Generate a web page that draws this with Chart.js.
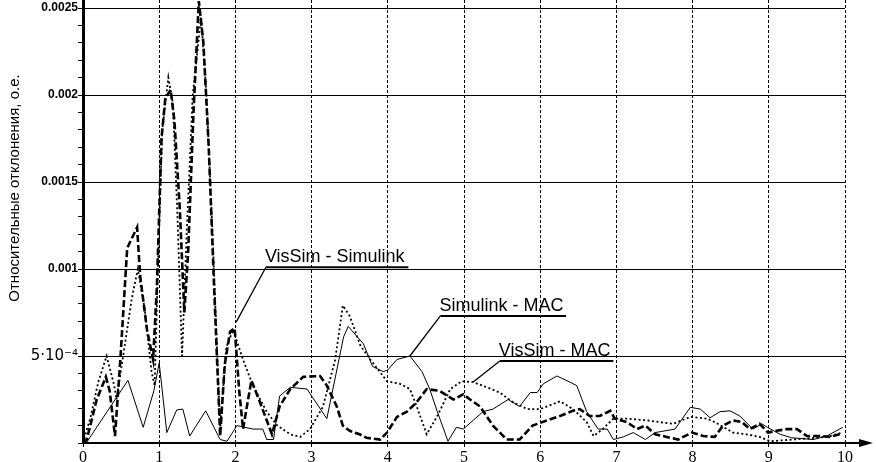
<!DOCTYPE html>
<html>
<head>
<meta charset="utf-8">
<script src="https://cdn.jsdelivr.net/npm/chart.js@4.4.1/dist/chart.umd.min.js"></script>
<style>
  html, body { margin: 0; padding: 0; background: #fff; }
</style>
</head>
<body>
<canvas id="chart" width="876" height="462"></canvas>
<script>
// Simulink - MAC (thin solid)
var xSimMac = [0, 0.05, 0.59, 0.79, 0.93, 1.0, 1.1, 1.23, 1.31, 1.4, 1.61, 1.8, 1.89, 2.02, 2.23, 2.36, 2.41, 2.5,
    2.58, 2.72, 2.94, 3.2, 3.42, 3.48, 3.68, 3.8, 3.94, 4.0, 4.12, 4.29, 4.45, 4.55, 4.65, 4.79, 4.9, 4.99,
    5.12, 5.25, 5.38, 5.58, 5.73, 5.87, 5.96, 6.04, 6.22, 6.39, 6.48, 6.61, 6.76, 6.88, 6.96, 7.09, 7.22,
    7.38, 7.51, 7.77, 7.97, 8.1, 8.23, 8.36, 8.49, 8.62, 8.79, 8.91, 8.98, 9.15, 9.3, 9.58, 9.76, 9.97];
var ySimMac = [0, 0.05e-4, 3.6e-4, 0.9e-4, 3.0e-4, 4.6e-4, 0.6e-4, 1.9e-4, 1.95e-4, 0.4e-4, 1.85e-4, 0.2e-4, 0.1e-4, 1.0e-4, 0.8e-4, 0.8e-4, 0.2e-4, 0.2e-4,
    2.7e-4, 3.2e-4, 3.1e-4, 1.4e-4, 6.1e-4, 6.7e-4, 5.7e-4, 4.4e-4, 4.1e-4, 4.2e-4, 4.8e-4, 5.0e-4, 4.1e-4, 3.1e-4, 1.8e-4, 0.1e-4, 0.9e-4, 0.8e-4,
    1.3e-4, 1.8e-4, 1.95e-4, 2.5e-4, 2.1e-4, 2.9e-4, 2.9e-4, 3.4e-4, 3.85e-4, 3.5e-4, 3.3e-4, 1.8e-4, 0.8e-4, 0.8e-4, 0.2e-4, 0.35e-4, 0.6e-4,
    0.2e-4, 0.6e-4, 0.8e-4, 2.05e-4, 1.95e-4, 1.45e-4, 1.8e-4, 1.85e-4, 1.55e-4, 0.8e-4, 1.1e-4, 0.9e-4, 0.5e-4, 0.3e-4, 0.2e-4, 0.4e-4, 0.9e-4];

// VisSim - Simulink (thick dashed)
var xVisSim = [0, 0.05, 0.18, 0.3, 0.35, 0.42, 0.49, 0.58, 0.71, 0.75, 0.84, 0.92, 0.97, 1.03, 1.08, 1.15, 1.2, 1.27,
    1.33, 1.38, 1.45, 1.52, 1.58, 1.65, 1.72, 1.8, 1.86, 1.93, 1.99, 2.05, 2.1, 2.21, 2.3, 2.48, 2.58, 2.72,
    2.89, 3.11, 3.2, 3.33, 3.41, 3.5, 3.63, 3.72, 3.9, 3.99, 4.12, 4.25, 4.38, 4.51, 4.68, 4.86, 4.99, 5.08,
    5.21, 5.38, 5.56, 5.73, 5.9, 6.09, 6.26, 6.43, 6.52, 6.65, 6.78, 6.92, 6.98, 7.14, 7.27, 7.38, 7.51, 7.66,
    7.81, 7.99, 8.14, 8.29, 8.4, 8.53, 8.65, 8.75, 8.88, 8.99, 9.1, 9.24, 9.37, 9.5, 9.67, 9.8, 9.93];
var yVisSim = [0, 0.2e-4, 2.5e-4, 3.8e-4, 3.0e-4, 0.4e-4, 4.8e-4, 11.2e-4, 12.4e-4, 9.6e-4, 6.5e-4, 4.8e-4, 9.0e-4, 17.5e-4, 19.8e-4, 20.3e-4, 18.5e-4, 13.5e-4,
    7.5e-4, 11.0e-4, 19.0e-4, 25.4e-4, 23.0e-4, 17.0e-4, 9.0e-4, 0.4e-4, 4.5e-4, 6.4e-4, 6.6e-4, 3.0e-4, 0.8e-4, 3.6e-4, 2.6e-4, 0.5e-4, 2.1e-4, 3.1e-4,
    3.8e-4, 3.85e-4, 3.3e-4, 2.1e-4, 1.0e-4, 0.7e-4, 0.5e-4, 0.3e-4, 0.2e-4, 0.6e-4, 1.5e-4, 1.8e-4, 2.35e-4, 3.1e-4, 3.0e-4, 2.5e-4, 2.8e-4, 2.5e-4,
    2.1e-4, 1.0e-4, 0.2e-4, 0.2e-4, 1.0e-4, 1.3e-4, 1.55e-4, 1.85e-4, 1.95e-4, 1.55e-4, 1.55e-4, 1.85e-4, 1.4e-4, 1.2e-4, 0.8e-4, 1.0e-4, 0.5e-4, 0.35e-4,
    0.2e-4, 0.6e-4, 0.4e-4, 0.35e-4, 1.0e-4, 1.3e-4, 1.2e-4, 0.8e-4, 1.1e-4, 0.6e-4, 0.7e-4, 0.8e-4, 0.8e-4, 0.4e-4, 0.4e-4, 0.35e-4, 0.5e-4];

// VisSim - MAC (dotted)
var xVisMac = [0, 0.1, 0.2, 0.31, 0.41, 0.44, 0.52, 0.64, 0.72, 0.81, 0.9, 0.94, 0.99, 1.04, 1.12, 1.18, 1.24, 1.3,
    1.36, 1.44, 1.55, 1.62, 1.7, 1.8, 1.88, 1.97, 2.1, 2.23, 2.41, 2.55, 2.72, 2.85, 2.98, 3.15, 3.31, 3.41,
    3.5, 3.64, 3.77, 3.99, 4.16, 4.29, 4.38, 4.51, 4.65, 4.82, 4.97, 5.12, 5.3, 5.47, 5.64, 5.83, 6.0, 6.09,
    6.26, 6.43, 6.61, 6.7, 6.82, 6.96, 7.14, 7.4, 7.74, 7.97, 8.19, 8.29, 8.53, 8.71, 8.88, 9.02, 9.32, 9.76, 9.97];
var yVisMac = [0, 1.5e-4, 3.5e-4, 5.0e-4, 3.3e-4, 2.5e-4, 4.8e-4, 8.3e-4, 10.0e-4, 7.7e-4, 4.1e-4, 3.3e-4, 11.0e-4, 18.0e-4, 21.0e-4, 19.5e-4, 13.0e-4, 5.0e-4,
    12.0e-4, 20.0e-4, 24.5e-4, 20.0e-4, 12.0e-4, 0.8e-4, 5.5e-4, 6.5e-4, 4.8e-4, 3.3e-4, 1.8e-4, 1.0e-4, 0.5e-4, 0.35e-4, 0.8e-4, 2.1e-4, 4.8e-4, 7.9e-4,
    7.3e-4, 5.6e-4, 4.8e-4, 3.55e-4, 3.4e-4, 3.1e-4, 2.1e-4, 0.5e-4, 1.55e-4, 3.1e-4, 3.55e-4, 3.5e-4, 3.2e-4, 2.9e-4, 2.35e-4, 1.95e-4, 1.95e-4, 2.1e-4,
    2.4e-4, 1.95e-4, 1.2e-4, 0.4e-4, 0.8e-4, 1.4e-4, 1.4e-4, 1.3e-4, 1.1e-4, 1.5e-4, 1.4e-4, 1.2e-4, 0.6e-4, 0.5e-4, 0.35e-4, 0.1e-4, 0.2e-4, 0.35e-4, 0.6e-4];

var yTickValues = [0.0005, 0.001, 0.0015, 0.002, 0.0025];
var yTickLabels = ['5·10⁻⁴', '0.001', '0.0015', '0.002', '0.0025'];
var yTitle = 'Относительные отклонения, о.е.';

// callout labels: underline from x0 to x1 at y, leader to (tx, ty)
var notes = [
    { text: 'VisSim - Simulink', x0: 2.40, x1: 4.27, y: 0.00101, tx: 2.01, ty: 0.000695 },
    { text: 'Simulink - MAC', x0: 4.69, x1: 6.34, y: 0.00073, tx: 4.29, ty: 0.0005 },
    { text: 'VisSim - MAC', x0: 5.47, x1: 6.96, y: 0.000471, tx: 5.12, ty: 0.00035 }
];

function pts(xs, ys) {
    return xs.map(function (x, i) { return { x: x, y: ys[i] }; });
}

function isMajor(v) {
    return Math.abs(v * 2000 - Math.round(v * 2000)) < 1e-6 && v > 0;
}

var extras = {
    id: 'extras',
    afterDraw: function (chart) {
        var ctx = chart.ctx;
        var xs = chart.scales.x, ys = chart.scales.y;
        ctx.save();
        ctx.fillStyle = '#000';
        ctx.strokeStyle = '#000';

        // x axis arrow past 10
        var y0 = ys.getPixelForValue(0);
        ctx.lineWidth = 2;
        ctx.beginPath();
        ctx.moveTo(xs.right, y0);
        ctx.lineTo(xs.right + 18, y0);
        ctx.stroke();
        ctx.beginPath();
        ctx.moveTo(xs.right + 28, y0);
        ctx.lineTo(xs.right + 14, y0 - 4);
        ctx.lineTo(xs.right + 14, y0 + 4);
        ctx.closePath();
        ctx.fill();

        // callouts
        ctx.font = '18px "Liberation Sans", Arial, sans-serif';
        ctx.textBaseline = 'alphabetic';
        notes.forEach(function (n) {
            var ax = xs.getPixelForValue(n.x0), bx = xs.getPixelForValue(n.x1);
            var py = ys.getPixelForValue(n.y);
            ctx.lineWidth = 2;
            ctx.beginPath();
            ctx.moveTo(ax, py);
            ctx.lineTo(bx, py);
            ctx.stroke();
            ctx.lineWidth = 1.3;
            ctx.beginPath();
            ctx.moveTo(ax, py);
            ctx.lineTo(xs.getPixelForValue(n.tx), ys.getPixelForValue(n.ty));
            ctx.stroke();
            ctx.fillText(n.text, ax - 1, py - 5);
        });

        // y axis title
        ctx.font = '15px "Liberation Sans", Arial, sans-serif';
        ctx.textAlign = 'center';
        ctx.textBaseline = 'middle';
        ctx.translate(15, 188);
        ctx.rotate(-Math.PI / 2);
        ctx.fillText(yTitle, 0, 0);
        ctx.restore();
    }
};

var ctx = document.getElementById('chart');
var chart = new Chart(ctx, {
    type: 'line',
    data: {
        datasets: [{
            label: 'VisSim - MAC',
            data: pts(xVisMac, yVisMac),
            borderColor: '#000',
            borderWidth: 1.8,
            borderDash: [2, 2.5]
        }, {
            label: 'VisSim - Simulink',
            data: pts(xVisSim, yVisSim),
            borderColor: '#000',
            borderWidth: 2.6,
            borderDash: [7, 3]
        }, {
            label: 'Simulink - MAC',
            data: pts(xSimMac, ySimMac),
            borderColor: '#000',
            borderWidth: 1
        }]
    },
    options: {
        responsive: false,
        animation: false,
        layout: { padding: { top: 0, right: 31, bottom: 0, left: 0 } },
        elements: {
            point: { radius: 0 },
            line: { tension: 0, fill: false }
        },
        plugins: {
            legend: { display: false },
            tooltip: { enabled: false }
        },
        scales: {
            x: {
                type: 'linear',
                min: 0,
                max: 10,
                afterFit: function (s) { s.height = 19; s.paddingLeft = 0; s.paddingRight = 0; },
                ticks: {
                    stepSize: 1,
                    autoSkip: false,
                    color: '#000',
                    padding: 1,
                    font: { family: '"Liberation Serif", "Times New Roman", serif', size: 16 }
                },
                grid: {
                    color: '#000',
                    lineWidth: 1,
                    tickColor: '#000',
                    tickLength: 4
                },
                border: { color: '#000', width: 2, dash: [3, 2] }
            },
            y: {
                type: 'linear',
                min: 0,
                max: 0.002546,
                afterFit: function (s) { s.width = 83; s.paddingTop = 0; s.paddingBottom = 0; },
                ticks: {
                    stepSize: 0.0001,
                    includeBounds: false,
                    autoSkip: false,
                    color: '#000',
                    padding: 0,
                    font: function (c) {
                        if (c.tick && Math.abs(c.tick.value - 0.0005) < 1e-9) {
                            return { family: '"DejaVu Sans", "Liberation Sans", sans-serif', size: 15 };
                        }
                        return { family: '"Liberation Sans", Arial, sans-serif', size: 12, weight: 'bold' };
                    },
                    callback: function (v) {
                        for (var i = 0; i < yTickValues.length; i++) {
                            if (Math.abs(yTickValues[i] - v) < 1e-9) return yTickLabels[i];
                        }
                        return '';
                    }
                },
                grid: {
                    color: function (c) { return c.tick && isMajor(c.tick.value) ? '#000' : 'rgba(0,0,0,0)'; },
                    lineWidth: 1,
                    tickColor: '#000',
                    tickLength: 5
                },
                border: { color: '#000', width: 3 }
            }
        }
    },
    plugins: [extras]
});
</script>
</body>
</html>
